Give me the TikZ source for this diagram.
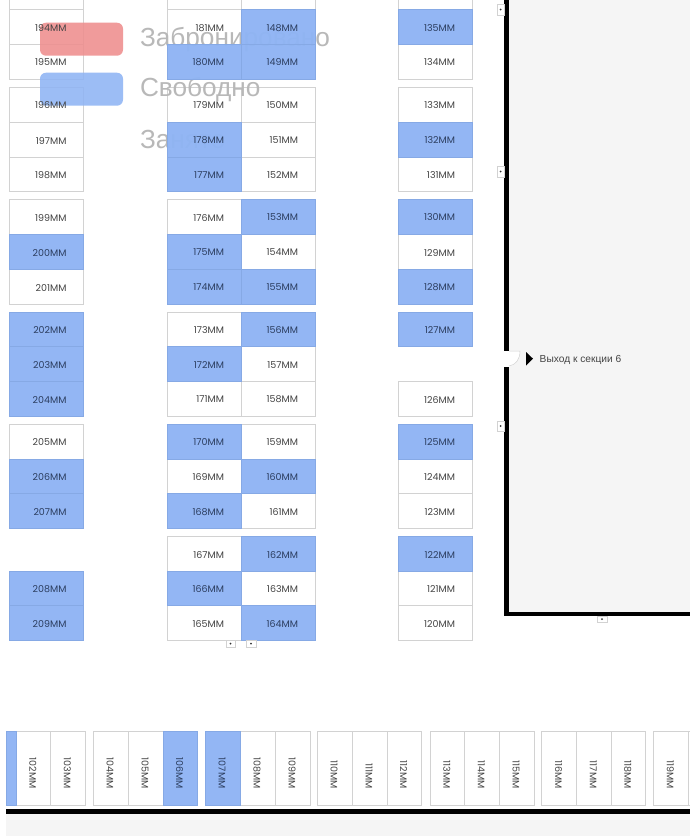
\documentclass[tikz,border=0pt]{standalone}
\usepackage{fontspec}
\setmainfont{Liberation Sans}
\newfontfamily\stallfont{Poppins}
\definecolor{freeblue}{HTML}{8FB4F4}
\definecolor{bookedred}{HTML}{EE8E8E}
\definecolor{stallline}{HTML}{D2D2D2}
\definecolor{hallgray}{HTML}{F5F5F5}
\definecolor{legendtext}{HTML}{B8B8B8}
\definecolor{darklabel}{HTML}{444444}
\definecolor{navylabel}{HTML}{2C3E60}
\tikzset{
  stallbox/.style={draw=stallline,line width=.7pt,inner sep=0,outer sep=0,fill=white},
  freebox/.style={draw=freeblue!94!black,line width=.5pt,inner sep=0,outer sep=0,fill=freeblue,fill opacity=.96},
  stalltext/.style={font=\stallfont\fontsize{9.5}{11}\selectfont,inner sep=0,outer sep=0},
  legendbox/.style={rounded corners=6pt,inner sep=0,outer sep=0,minimum width=83pt,minimum height=33pt,fill opacity=.88},
  legendlabel/.style={font=\fontsize{26.2}{28}\selectfont,text=legendtext,anchor=west,inner sep=0,outer sep=0},
  wall/.style={fill=black,draw=none},
  marker/.style={draw=stallline,fill=white,line width=.5pt,inner sep=0,outer sep=0},
  dot/.style={fill=black!80,circle,inner sep=0,minimum size=2pt}
}
% vertical-stack stalls: left/top/bottom/label
\def\whitestalls{9.5/9.5/44/194,9.5/44/79/195,9.5/87/122/196,9.5/122/157/197,9.5/157/191.5/198,9.5/199/234/199,9.5/269/304/201,9.5/424/459/205,
167/9.5/44/181,167/87/122/179,167/199/234/176,167/312/346.5/173,167/381/416/171,167/459/493.5/169,167/536/571/167,167/605.5/640/165,
241/87/122/150,241/122/157/151,241/157/191.5/152,241/234/269/154,241/346.5/381/157,241/381/416/158,241/424/459/159,241/493.5/528/161,241/571/605.5/163,
398/44/79/134,398/87/122/133,398/157/191.5/131,398/234/269/129,398/381/416/126,398/459/493.5/124,398/493.5/528/123,398/571/605.5/121,398/605.5/640/120}
\def\bluestalls{9.5/234/269/200,9.5/312/346.5/202,9.5/346.5/381/203,9.5/381/416/204,9.5/459/493.5/206,9.5/493.5/528/207,9.5/571/605.5/208,9.5/605.5/640/209,
167/44/79/180,167/122/157/178,167/157/191.5/177,167/234/269/175,167/269/304/174,167/346.5/381/172,167/424/459/170,167/493.5/528/168,167/571/605.5/166,
241/9.5/44/148,241/44/79/149,241/199/234/153,241/269/304/155,241/312/346.5/156,241/459/493.5/160,241/536/571/162,241/605.5/640/164,
398/9.5/44/135,398/122/157/132,398/199/234/130,398/269/304/128,398/312/346.5/127,398/424/459/125,398/536/571/122}
% horizontal-row stalls: left/right/label
\def\whiterow{16/50.5/102,50.5/85/103,93/128/104,128/163/105,240/275/108,275/310/109,317/352/110,352/387/111,387/421/112,430/464.5/113,464.5/499/114,499/534/115,541.7/576.5/116,576.5/611/117,611/645.5/118,653.7/688/119}
\def\bluerow{163/197/106,205/240/107}
\begin{document}
\begin{tikzpicture}[x=1pt,y=-1pt]
\clip (0,0) rectangle (690,836);
\fill[white] (0,0) rectangle (690,836);
% hall
\fill[hallgray] (504,0) rectangle (690,614);
\fill[hallgray] (6,810) rectangle (690,836);
\fill[wall] (504,0) rectangle (509,616);
\fill[wall] (504,612) rectangle (690,616);
\fill[wall] (6,808.5) rectangle (690,813.5);
% door
\fill[white] (502,351) rectangle (510,367);
\filldraw[fill=white,draw=stallline,line width=.5pt] (509,351) -- (520,351) .. controls (520,359) and (516,365) .. (509,366);
\fill[black] (526,352) -- (533,358.7) -- (526,365.5) -- cycle;
\node[anchor=west,inner sep=0,font=\fontsize{10.2}{12}\selectfont,text=darklabel] (exit) at (539.5,360) {Выход к секции 6};
% cut-off stalls
\foreach \l/\n in {9.5/a,167/b,241/c,398/d}
  \node[stallbox,minimum width=74pt,minimum height=30pt] (top\n) at (\l+37,-5.5) {};
\node[stallbox,minimum width=20pt,minimum height=74pt] (rowend) at (698,768) {};
% white stalls
\foreach \l/\t/\b/\n in \whitestalls {
  \pgfmathsetmacro\hh{\b-\t}
  \node[stallbox,minimum width=74pt,minimum height=\hh pt] (s\n) at (\l+37,{(\t+\b)/2}) {};
}
\foreach \l/\r/\n in \whiterow {
  \pgfmathsetmacro\ww{\r-\l}
  \node[stallbox,minimum width=\ww pt,minimum height=74pt] (s\n) at ({(\l+\r)/2},768) {};
}
% legend captions, under the blue stalls
\node[legendlabel] (lbooked) at (140,39.5) {Забронировано};
\node[legendlabel] (lfree) at (140,89.5) {Свободно};
\node[legendlabel] (ltaken) at (140,139.5) {Занято};
% blue stalls
\foreach \l/\t/\b/\n in \bluestalls {
  \pgfmathsetmacro\hh{\b-\t}
  \node[freebox,minimum width=74pt,minimum height=\hh pt] (s\n) at (\l+37,{(\t+\b)/2}) {};
}
\foreach \l/\r/\n in \bluerow {
  \pgfmathsetmacro\ww{\r-\l}
  \node[freebox,minimum width=\ww pt,minimum height=74pt] (s\n) at ({(\l+\r)/2},768) {};
}
\node[freebox,minimum width=10pt,minimum height=74pt] (sfirst) at (11,768) {};
% legend swatches
\node[legendbox,fill=bookedred] (swred) at (81.5,39.2) {};
\node[legendbox,fill=freeblue] (swblue) at (81.5,89.2) {};
% stall labels
\foreach \l/\t/\b/\n in \whitestalls
  \node[stalltext,text=darklabel,anchor=east] (t\n) at (\l+57,{(\t+\b)/2+1}) {\n MM};
\foreach \l/\t/\b/\n in \bluestalls
  \node[stalltext,text=navylabel,anchor=east] (t\n) at (\l+57,{(\t+\b)/2+1}) {\n MM};
\foreach \l/\r/\n in \whiterow
  \node[stalltext,text=darklabel,rotate=-90,anchor=east] (t\n) at ({(\l+\r)/2-.5},788.5) {\n MM};
\foreach \l/\r/\n in \bluerow
  \node[stalltext,text=navylabel,rotate=-90,anchor=east] (t\n) at ({(\l+\r)/2-.5},788.5) {\n MM};
% small markers
\foreach \x/\y/\n in {500.7/9.5/a,500.7/171.5/b,500.7/426/c} {
  \node[marker,minimum width=6.5pt,minimum height=10.5pt] (m\n) at (\x,\y) {};
  \node[dot] (d\n) at (\x,\y) {};
}
\foreach \x/\y/\n in {602/619/e,230.5/643.5/f,251/643.5/g} {
  \node[marker,minimum width=9.5pt,minimum height=6.5pt] (m\n) at (\x,\y) {};
  \node[dot] (d\n) at (\x,\y) {};
}
\end{tikzpicture}
\end{document}
